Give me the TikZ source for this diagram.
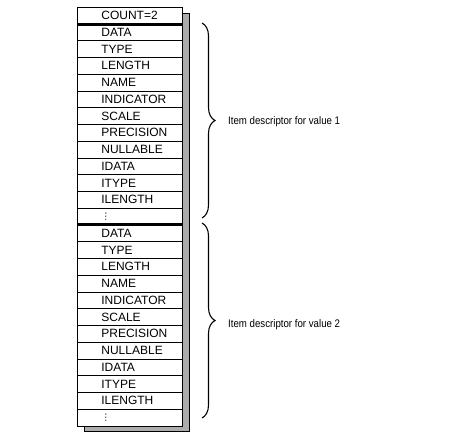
\documentclass[tikz,border=0pt]{standalone}
\usepackage{fontspec}
\setmainfont{Liberation Sans}
\newfontfamily\notefont[FakeStretch=0.88]{Liberation Sans}
\newfontfamily\symfont{DejaVu Sans}
\usetikzlibrary{decorations.pathreplacing}
\newcommand{\dotsmark}{{\symfont\fontsize{9}{9}\selectfont ⋮}}
\tikzset{
  field/.style={draw, fill=white, line width=0.8pt, anchor=north west,
    inner xsep=0pt, inner ysep=0pt, text width=105pt, minimum height=16.75pt,
    font=\fontsize{12}{12}\selectfont, execute at begin node=\hspace*{24pt}},
  divider/.style={line width=3pt},
  shadow box/.style={fill=gray!65, draw=black, line width=0.8pt},
  curly/.style={decorate, decoration={brace, amplitude=13pt}, line width=1.1pt},
  note/.style={anchor=west, inner sep=0pt, font=\notefont\fontsize{11}{11}\selectfont},
}

\begin{document}
\begin{tikzpicture}[x=1pt, y=-1pt]
  \useasboundingbox (0,0) rectangle (464,439);

  % Shadow behind the descriptor area
  \filldraw[shadow box] (84.5,13) rectangle (189.5,431.5);

  % Count field
  \node[field, minimum height=16.5pt] (count) at (77,7) {COUNT=2};

  % Two item descriptors
  \foreach \name [count=\i] in {DATA,TYPE,LENGTH,NAME,INDICATOR,SCALE,
      PRECISION,NULLABLE,IDATA,ITYPE,ILENGTH,{\dotsmark}} {
    \node[field] (a\i) at (77,{23.5+(\i-1)*16.75}) {\name};
    \node[field] (b\i) at (77,{224.5+(\i-1)*16.75}) {\name};
  }

  % Thick separators
  \draw[divider] (count.south west) -- (count.south east);
  \draw[divider] (b1.north west) -- (b1.north east);

  % Braces and their notes
  \coordinate (top1) at (202,23);
  \coordinate (bot1) at (202,218);
  \coordinate (top2) at (202,223);
  \coordinate (bot2) at (202,418);
  \draw[curly] (top1) -- (bot1);
  \draw[curly] (top2) -- (bot2);
  \node[note] (note1) at (228,122) {Item descriptor for value 1};
  \node[note] (note2) at (228,325) {Item descriptor for value 2};

\end{tikzpicture}
\end{document}
